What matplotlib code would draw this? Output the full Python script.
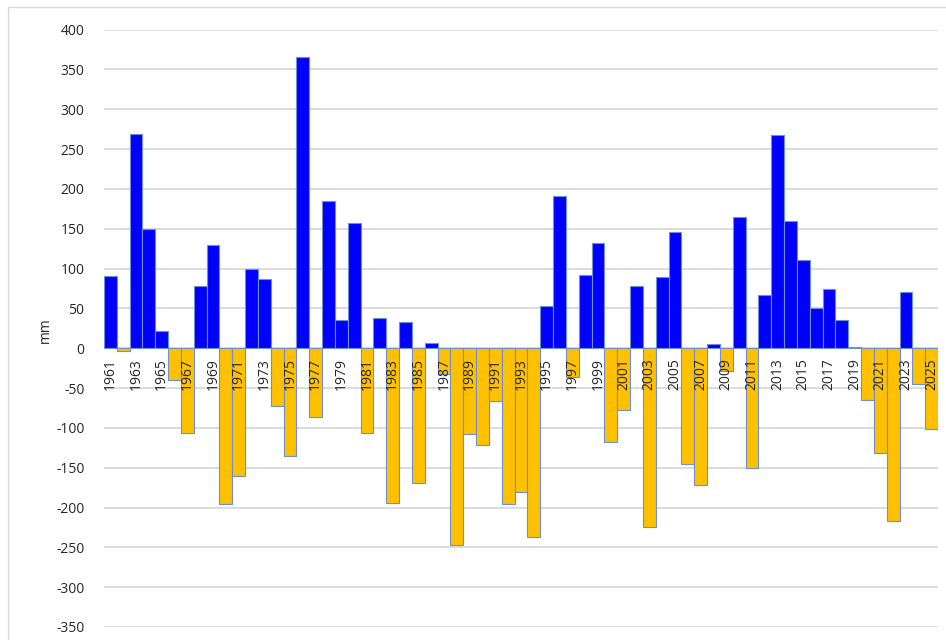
import matplotlib
matplotlib.use("Agg")
import matplotlib.pyplot as plt
from matplotlib.patches import Rectangle

years = list(range(1961, 2026))
values = [
    90, -4, 269, 150, 21, -40, -106, 78, 130, -196,
    -161, 99, 87, -73, -135, 366, -87, 185, 35, 157,
    -106, 38, -194, 33, -169, 7, -32, -247, -108, -122,
    -66, -195, -180, -237, 53, 191, -36, 92, 132, -118,
    -77, 78, -224, 89, 146, -145, -172, 5, -29, 165,
    -151, 67, 267, 160, 111, 51, 74, 35, 2, -65,
    -132, -217, 70, -45, -101,
]
tick_years = years[::2]
y_ticks = list(range(-350, 401, 50))

POS = "#0000FF"
NEG = "#FFC000"
EDGE = "#6F8FCF"
TXT = "#262626"
GRID = "#D9D9D9"

plt.rcParams['font.family'] = ['Open Sans', 'DejaVu Sans']

fig = plt.figure(figsize=(9.46, 6.40), dpi=100)
fig.patches.append(Rectangle((8/946, -0.1), 1.2, 1 - 7/640 + 0.1,
                             transform=fig.transFigure, fill=False,
                             edgecolor=GRID, linewidth=1.0))
ax = fig.add_axes([104/946, 1 - 627/640, (938 - 104)/946, (627 - 29.5)/640])

colors = [POS if v >= 0 else NEG for v in values]
ax.bar(years, values, width=1.0, color=colors, edgecolor=EDGE, linewidth=0.8, zorder=2)

ax.set_xlim(years[0] - 0.5, years[-1] + 0.5)
ax.set_ylim(-350, 400)
ax.set_yticks(y_ticks)
ax.set_yticklabels([str(t) for t in y_ticks], fontsize=10, color=TXT)
ax.tick_params(axis='y', length=0, pad=14)

ax.set_axisbelow(True)
ax.yaxis.grid(True, color=GRID, linewidth=1.3)
ax.xaxis.grid(False)
ax.yaxis.set_zorder(0.5)
ax.xaxis.set_zorder(3)

ax.spines['bottom'].set_position(('data', 0))
for s in ['top', 'right', 'left', 'bottom']:
    ax.spines[s].set_visible(False)

ax.set_xticks(tick_years)
ax.set_xticklabels([str(y) for y in tick_years], rotation=90, fontsize=10, color=TXT)
ax.tick_params(axis='x', length=0, pad=7)

ax.set_ylabel("mm", fontsize=10, color=TXT)
ax.yaxis.set_label_coords(-51/834, 0.497)

fig.savefig("out.png", dpi=100, facecolor="white")
